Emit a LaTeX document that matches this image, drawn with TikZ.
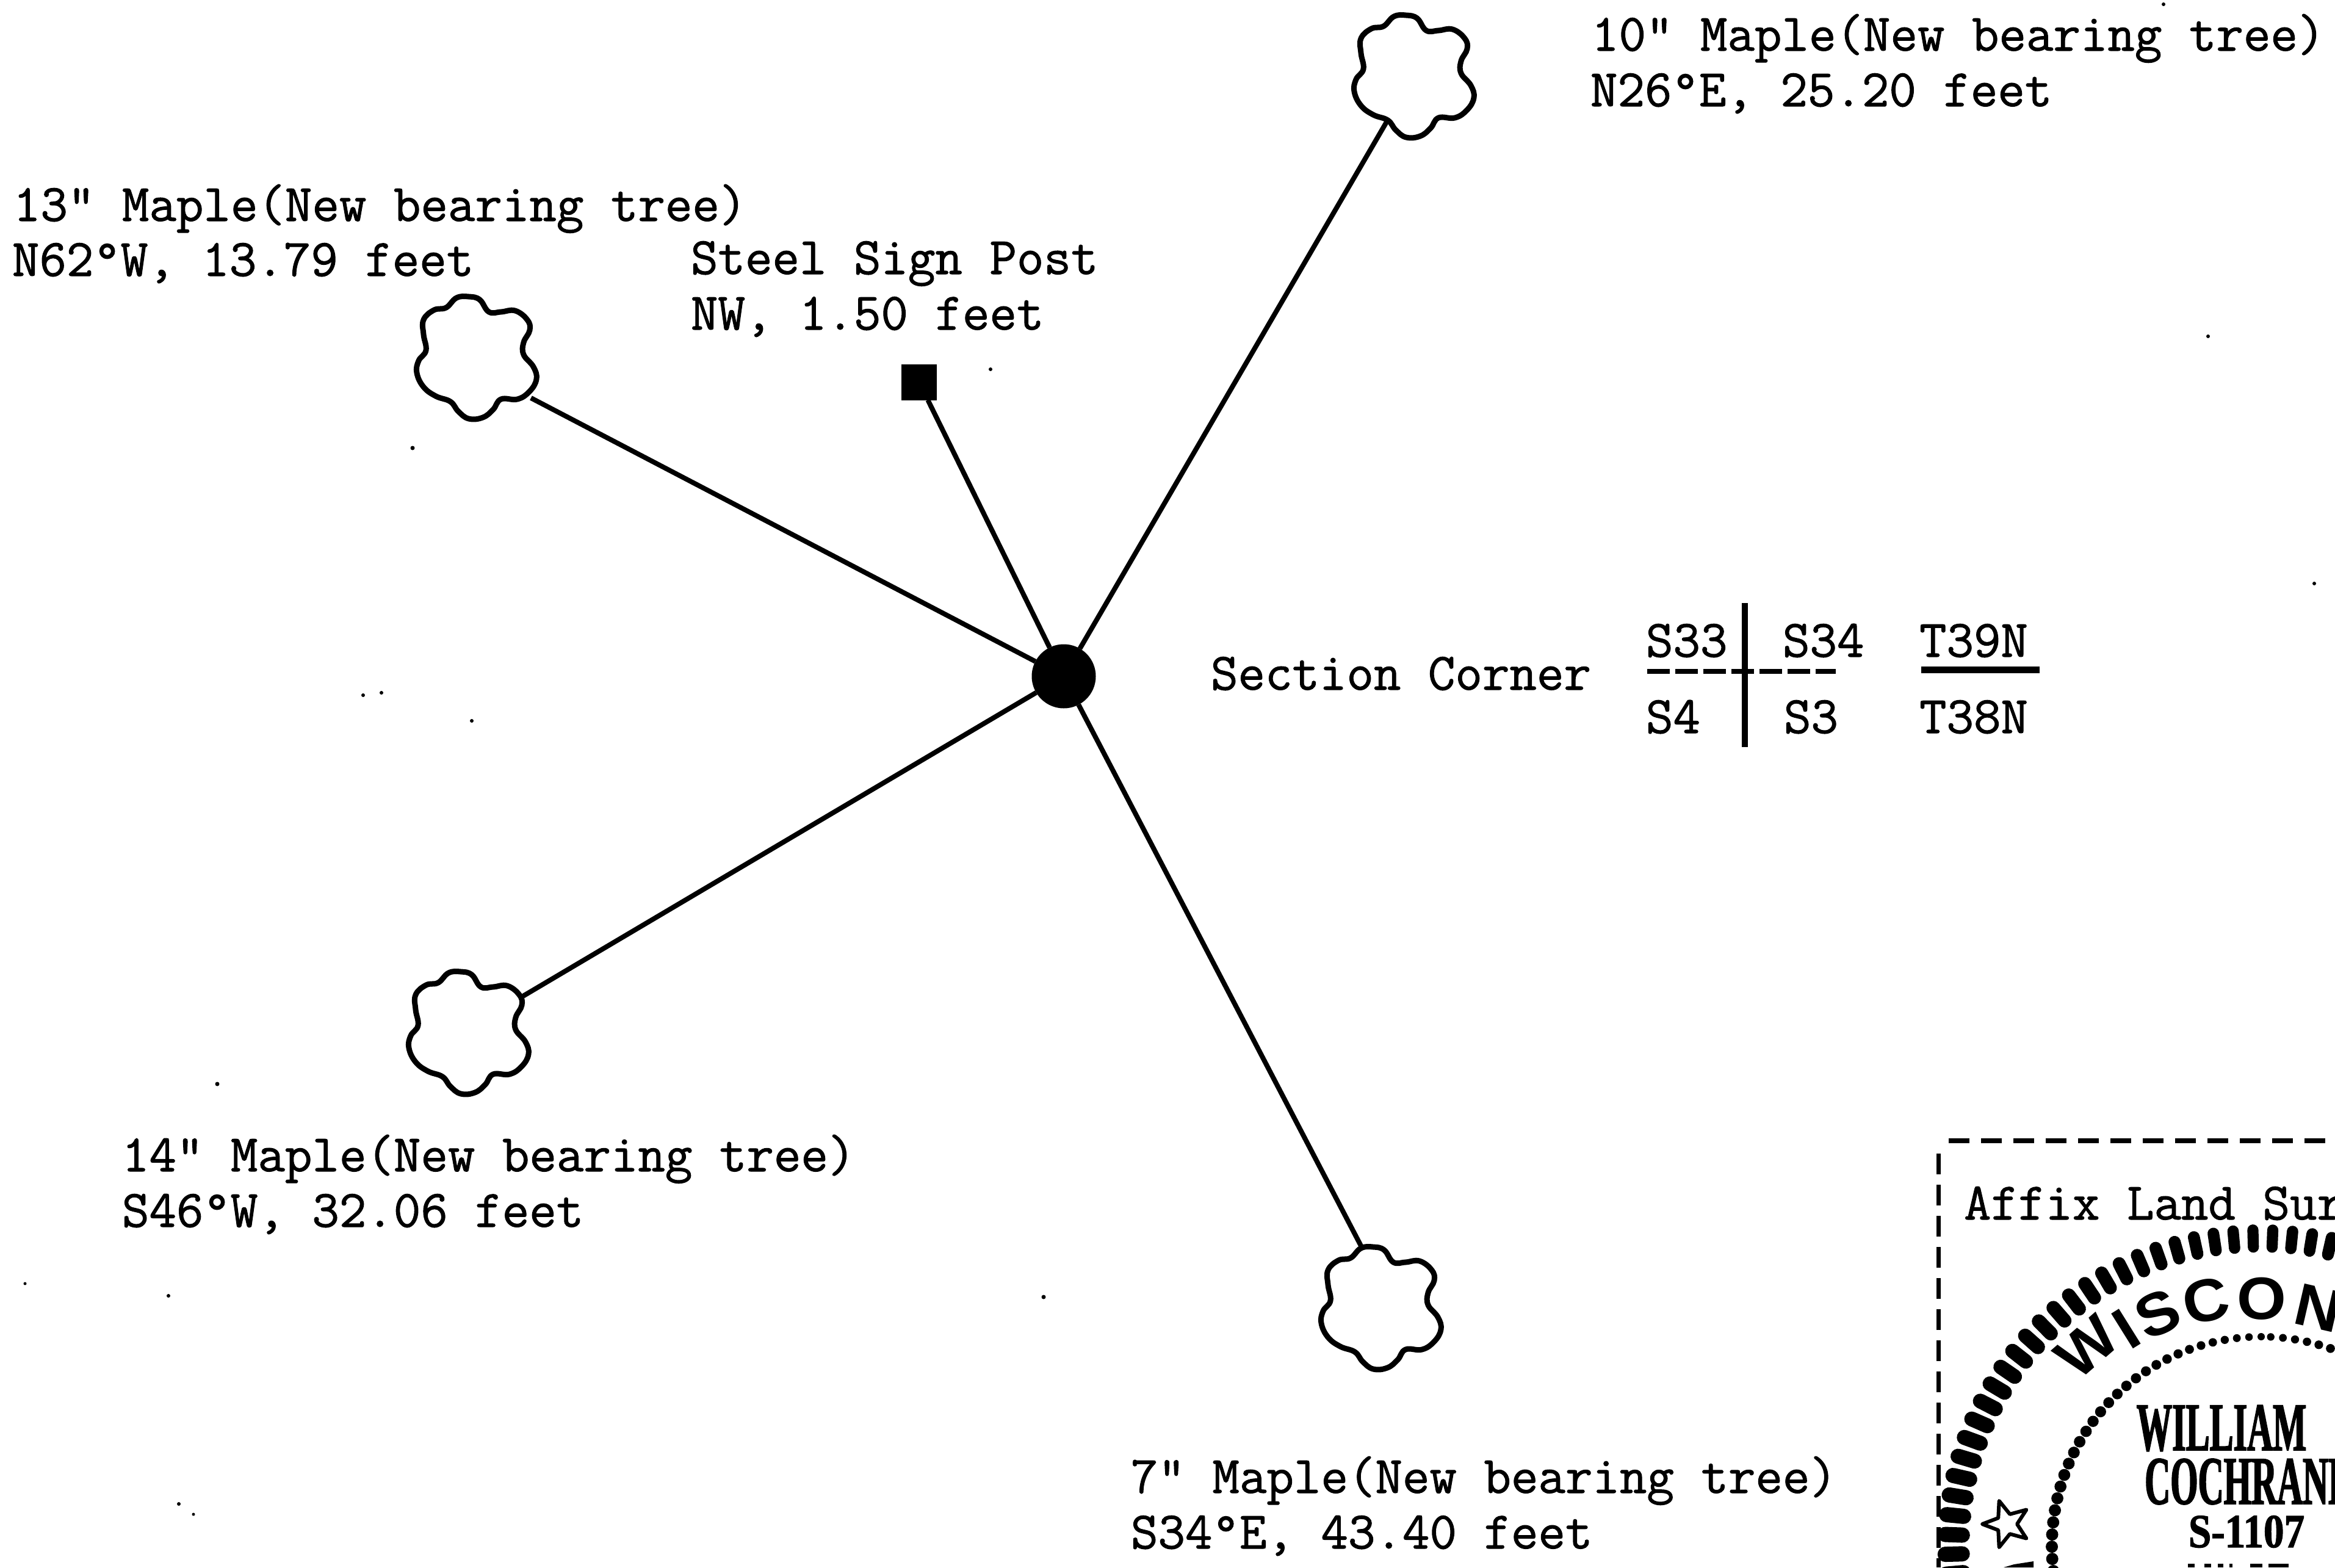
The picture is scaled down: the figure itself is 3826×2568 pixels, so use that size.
\documentclass[tikz,border=0pt]{standalone}
\usepackage{fontspec}
\newfontfamily\typefont[FakeBold=1.2]{Latin Modern Mono}
\newfontfamily\sealfont[FakeStretch=1.06]{Liberation Sans Bold}
\newfontfamily\stampfont[FakeStretch=0.52,FakeBold=1.5]{Liberation Serif Bold}
\newfontfamily\stampnofont[FakeStretch=0.86,FakeBold=1.5]{Liberation Serif Bold}
\tikzset{
  x=1pt,y=-1pt,
  label text/.style={anchor=base west,inner sep=0pt,outer sep=0pt,font=\fontsize{86.4}{92}\selectfont\typefont},
  leader/.style={line width=8pt},
  treeline/.style={line width=9pt,line join=round},
  hubdot/.style={circle,fill=black,inner sep=0pt,outer sep=0pt,minimum size=105pt},
  postdot/.style={rectangle,fill=black,inner sep=0pt,outer sep=0pt,minimum width=58pt,minimum height=59pt},
  sealletter/.style={inner sep=0pt,font=\fontsize{98}{100}\selectfont\sealfont},
  stampname/.style={inner sep=0pt,anchor=base,font=\fontsize{112}{120}\selectfont\stampfont},
  stampno/.style={inner sep=0pt,anchor=base,font=\fontsize{78}{84}\selectfont\stampnofont},
  tree/.pic={
    \draw[treeline,yscale=-1] plot[smooth cycle,tension=0.7] coordinates {
      (-50,82)(-33,98)(-13,100)(5,95)(20,75)(40,75)(63,77)(83,62)(87,45)(77,25)(77,5)(93,-15)(98,-35)(87,-55)(67,-68)(40,-68)(27,-85)(10,-98)(-13,-100)(-30,-88)(-43,-72)(-67,-63)(-87,-48)(-98,-25)(-95,-5)(-83,12)(-87,38)(-87,62)(-70,78)
    };
  }
}
\begin{document}
\begin{tikzpicture}
\useasboundingbox (0,0) rectangle (3826,2568);
\clip (0,0) rectangle (3826,2568);

% hub, post and trees
\node[hubdot] (hub) at (1743,1108) {};
\node[postdot] (post) at (1506,626) {};
\pic at (2317,125) {tree};
\pic at (781,586) {tree};
\pic at (768,1692) {tree};
\pic at (2263,2143) {tree};
\coordinate (tree10) at (2273,198);
\coordinate (tree13) at (870,652);
\coordinate (tree14) at (857,1632);
\coordinate (tree7) at (2232,2045);

\draw[leader] (hub) -- (tree10);
\draw[leader] (hub) -- (tree13);
\draw[leader] (hub) -- (tree14);
\draw[leader] (hub) -- (tree7);
\draw[leader] (hub) -- (post);

% labels
\node[label text] (l10a) at (2608,83) {10" Maple(New bearing tree)};
\node[label text] (l10b) at (2606,174) {N26°E, 25.20 feet};
\node[label text] (l13a) at (22,362) {13" Maple(New bearing tree)};
\node[label text] (l13b) at (20,452) {N62°W, 13.79 feet};
\node[label text] (lsa) at (1132,449) {Steel Sign Post};
\node[label text] (lsb) at (1132,540) {NW, 1.50 feet};
\node[label text] (l14a) at (200,1919) {14" Maple(New bearing tree)};
\node[label text] (l14b) at (200,2010) {S46°W, 32.06 feet};
\node[label text] (l7a) at (1853,2446) {7" Maple(New bearing tree)};
\node[label text] (l7b) at (1853,2537) {S34°E, 43.40 feet};
\node[label text] (lsc) at (1984,1130) {Section Corner};

% section corner key
\node[label text] (s33) at (2697,1076) {S33};
\node[label text] (s34) at (2921,1076) {S34};
\node[label text] (s4) at (2697,1201) {S4};
\node[label text] (s3) at (2923,1201) {S3};
\node[label text] (t39) at (3145,1076) {T39N};
\node[label text] (t38) at (3145,1201) {T38N};
\draw[line width=10pt] (2859,988) -- (2859,1224);
\draw[line width=8pt,dash pattern=on 37pt off 9pt] (2699,1100) -- (3008,1100);
\draw[line width=11pt] (3148,1097) -- (3342,1097);

% seal box
\draw[line width=8pt,dash pattern=on 34pt off 19pt] (3193,1869) -- (3826,1869);
\draw[line width=7pt,dash pattern=on 34pt off 17pt] (3176,1890) -- (3176,2568);
\node[label text] (affix) at (3218,1998) {Affix Land Sur};

% seal rings
\begin{scope}[shift={(3705,2533)}]
  \foreach \k in {0,...,99}{
    \pgfmathsetmacro\a{91.5+3.6*\k}
    \pgfmathsetmacro\w{18+7*abs(cos(\a))}
    \draw[line width=\w pt,line cap=round] (-\a:490) -- (-\a:518);
  }
  \foreach \k in {0,...,107}{
    \pgfmathsetmacro\a{90+3.34*\k}
    \pgfmathsetmacro\r{6+4*abs(cos(\a))}
    \fill (-\a:343) circle (\r);
  }
\end{scope}

% seal star
\begin{scope}[shift={(3288,2497)}]
  \draw[line width=6pt,line join=round] (180:40)--(144:17)--(108:40)--(72:17)--(36:40)--(0:17)--(-36:40)--(-72:17)--(-108:40)--(-144:17)--cycle;
\end{scope}
\fill (3283,2568) -- (3300,2563) -- (3332,2558) -- (3332,2568) -- cycle;

% seal lettering
\node[sealletter,rotate=41] (sw) at (3419,2207) {W};
\node[sealletter,rotate=32] (si) at (3484,2177) {I};
\node[sealletter,rotate=24] (ss) at (3535,2153) {S};
\node[sealletter,rotate=13] (sc) at (3614,2131) {C};
\node[sealletter] (so) at (3706,2128) {O};
\node[sealletter,rotate=-13] (sn) at (3799,2143) {N};

\node[stampname] (will) at (3640,2376) {WILLIAM};
\node[stampname,anchor=base west] (coch) at (3514,2464) {COCHRANE};
\node[stampno] (lic) at (3681,2535) {S-1107};
\foreach \x/\w in {3585/11,3612/11,3634/9,3653/5,3687/20,3717/33}{
  \fill (\x,2562) rectangle ++(\w,6);
}

% scan specks
\foreach \x/\y/\r in {676/734/3.5,1623/605/3,595/1139/3,625/1135/3,773/1181/3,356/1776/3.5,276/2123/3,1710/2125/3.5,41/2103/2.5,3618/551/3,3792/956/3,3545/7/3,293/2464/3,317/2481/2.5}{
  \fill (\x,\y) circle (\r);
}
\end{tikzpicture}
\end{document}
